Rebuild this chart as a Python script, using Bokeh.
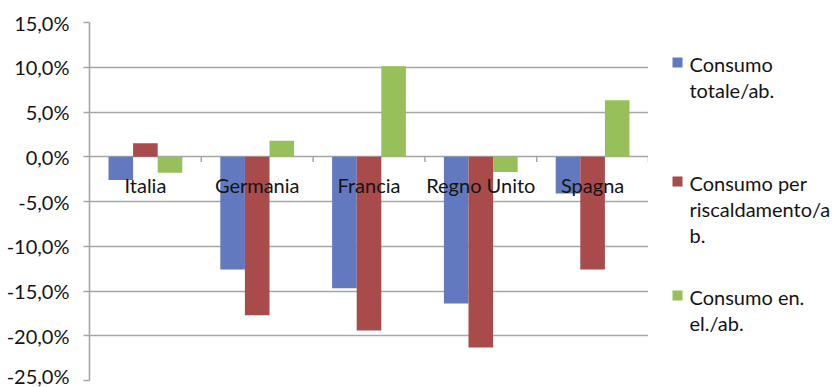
from bokeh.plotting import figure
from bokeh.layouts import row
from bokeh.models import (FactorRange, FixedTicker, CustomJSTickFormatter, Range1d)
from bokeh.transform import dodge
from bokeh.core.properties import value
from bokeh.embed import file_html
from bokeh.resources import INLINE

countries = ["Italia", "Germania", "Francia", "Regno Unito", "Spagna"]
consumo_totale = [-2.6, -12.6, -14.7, -16.4, -4.1]
consumo_riscaldamento = [1.5, -17.7, -19.4, -21.3, -12.6]
consumo_elettrico = [-1.8, 1.8, 10.1, -1.7, 6.3]
series_names = ["Consumo\ntotale/ab.", "Consumo per\nriscaldamento/a\nb.", "Consumo en.\nel./ab."]
colors = ["#6279C0", "#A94B4B", "#97C05A"]
y_ticks = [-25, -20, -15, -10, -5, 0, 5, 10, 15]

FONT = "Lato"
FS = "20px"
TXT = "#141414"
W, H = 835, 387
LEFT, RIGHT_EDGE, TOP, BOTTOM = 89, 648, 22, 380

p = figure(width=RIGHT_EDGE, height=H, output_backend="svg", toolbar_location=None,
           x_range=FactorRange(*countries, range_padding=0),
           y_range=Range1d(-25, 15),
           min_border_left=LEFT, min_border_right=0,
           min_border_top=TOP, min_border_bottom=H - BOTTOM)
p.outline_line_color = None
p.background_fill_color = "white"
p.border_fill_color = "white"

data = dict(cat=countries, a=consumo_totale, b=consumo_riscaldamento, c=consumo_elettrico,
            zero=[0] * len(countries))
bw = 0.22
for key, off, col in zip(["a", "b", "c"], [-bw, 0, bw], colors):
    p.vbar(x=dodge("cat", off, range=p.x_range), top=key, bottom=0, width=bw,
           source=data, fill_color=col, line_color=None)

# category labels sitting under the zero line
p.text(x="cat", y="zero", text="cat", source=data,
       text_font=value(FONT), text_font_size=FS, text_color=TXT,
       text_align="center", text_baseline="middle", y_offset=28)

# small boundary ticks on the zero line (Excel style)
bounds = [1, 2, 3, 4, 5]
p.segment(x0=bounds, x1=bounds, y0=[0] * 5, y1=[-0.6] * 5, line_color="#A6A6A6", line_width=1.5)

p.xaxis.visible = False
p.xgrid.visible = False
p.ygrid.ticker = FixedTicker(ticks=y_ticks)
p.ygrid.grid_line_color = "#A6A6A6"
p.ygrid.grid_line_width = 1.6

ya = p.yaxis[0]
ya.ticker = FixedTicker(ticks=y_ticks)
ya.formatter = CustomJSTickFormatter(code="return tick.toFixed(1).replace('.', ',') + '%';")
ya.axis_line_color = "#A6A6A6"
ya.axis_line_width = 1.6
ya.major_tick_line_color = "#A6A6A6"
ya.major_tick_line_width = 1.6
ya.major_tick_out = 6
ya.major_tick_in = 0
ya.minor_tick_line_color = None
ya.major_label_standoff = 14
ya.major_label_text_font = FONT
ya.major_label_text_font_size = FS
ya.major_label_text_color = TXT

# legend panel: a small figure whose frame is aligned with the main frame;
# its y range is expressed in page pixels (growing downward)
LW = W - RIGHT_EDGE
lg = figure(width=LW, height=H, output_backend="svg", toolbar_location=None,
            title=None, x_axis_location=None, y_axis_location=None,
            x_range=Range1d(0, LW), y_range=Range1d(BOTTOM, TOP),
            min_border=0, min_border_top=TOP, min_border_bottom=H - BOTTOM,
            outline_line_color=None)
lg.grid.visible = False
lg.background_fill_color = "white"
lg.border_fill_color = "white"

entry_first_line = [63, 182, 296]
line_gap = 26
sq_x, sq_size, txt_x = 29, 10, 41
lg.rect(x=[sq_x] * 3, y=[t - 1 for t in entry_first_line], width=sq_size, height=sq_size,
        fill_color=colors, line_color=None)
tx, ty, tt = [], [], []
for name, t in zip(series_names, entry_first_line):
    for i, line in enumerate(name.split("\n")):
        tx.append(txt_x)
        ty.append(t + i * line_gap)
        tt.append(line)
lg.text(x=tx, y=ty, text=tt, text_font=value(FONT), text_font_size=FS, text_color=TXT,
        text_align="left", text_baseline="middle")

layout = row(p, lg, spacing=0)
open("out.html", "w").write(file_html(layout, INLINE))
